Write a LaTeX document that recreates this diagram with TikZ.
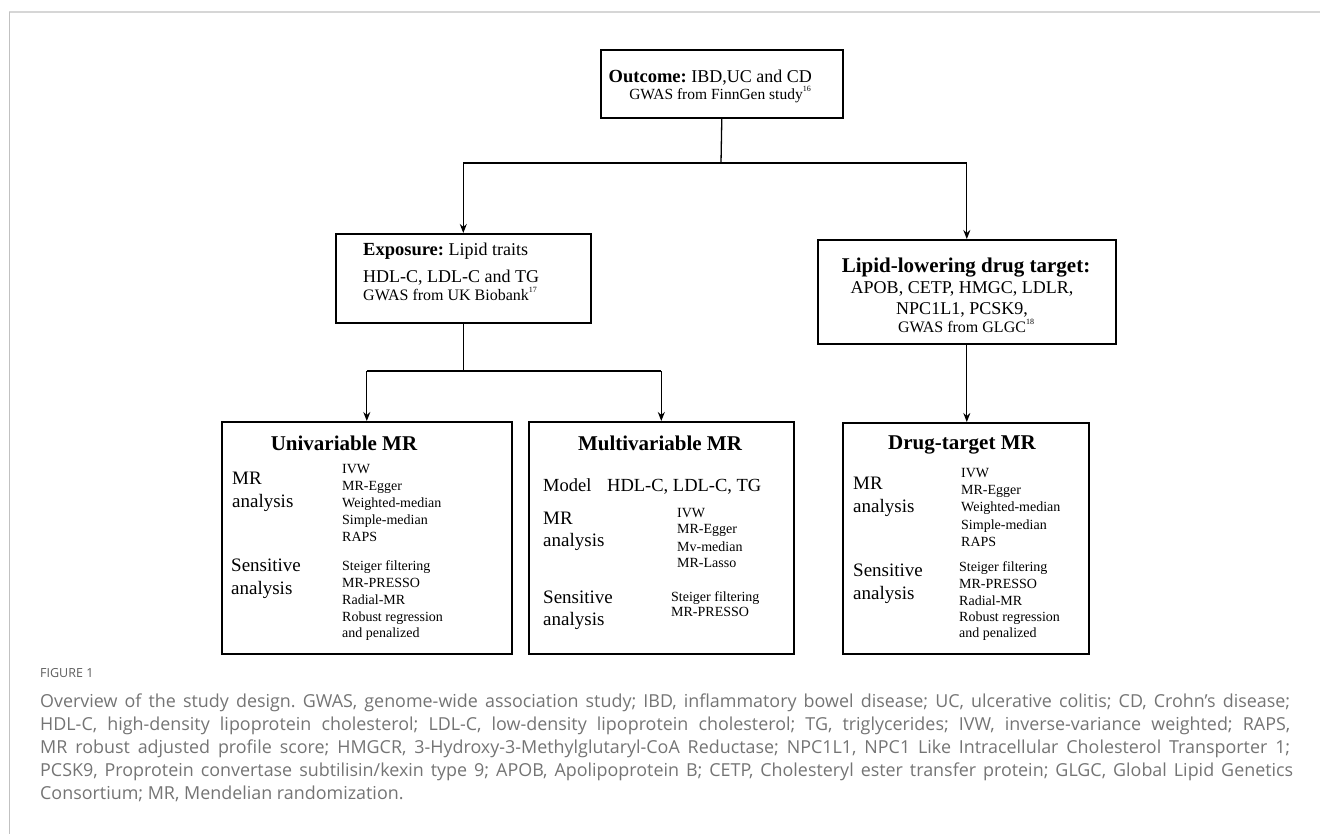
\documentclass[tikz,border=0pt]{standalone}
\usepackage{fontspec}
\setmainfont{Liberation Serif}
\newfontfamily\capfont{Open Sans}
\usetikzlibrary{arrows.meta}
\definecolor{capgray}{HTML}{747474}
\definecolor{framegray}{HTML}{D6D6D6}
\newcommand{\fsz}[1]{\fontsize{#1}{#1}\selectfont}
\frenchspacing
\begin{document}
\begin{tikzpicture}[x=1pt,y=-1pt,
  boxst/.style={draw=black, line width=1.6pt, inner sep=0pt},
  lnkst/.style={line width=1.3pt},
  arrst/.style={line width=1.3pt, -{Stealth[length=9pt,width=7pt]}},
  tw/.style={inner sep=0pt, anchor=base west},
  tcc/.style={inner sep=0pt, anchor=base},
  te/.style={inner sep=0pt, anchor=base east},
  headtxt/.style={tcc, font=\bfseries\fsz{21}},
  labtxt/.style={tw, font=\fsz{19}},
  itmtxt/.style={tw, font=\fsz{14}},
  captxt/.style={tw, font=\capfont\fsz{17.9}, text=capgray},
]
\useasboundingbox (0,0) rectangle (1320,834);
% frame lines
\draw[framegray, line width=2pt] (9,12) -- (1320,12);
\draw[framegray!90!black, line width=1pt] (9,12) -- (9,834);

% boxes
\node[boxst, anchor=north west, minimum width=242pt, minimum height=68pt] (out) at (600,49) {};
\node[boxst, anchor=north west, minimum width=255pt, minimum height=89pt] (exp) at (335,233) {};
\node[boxst, anchor=north west, minimum width=298pt, minimum height=104pt] (lip) at (817,239) {};
\node[boxst, anchor=north west, minimum width=290pt, minimum height=232pt] (uni) at (221,421) {};
\node[boxst, anchor=north west, minimum width=265pt, minimum height=232pt] (mul) at (528,421) {};
\node[boxst, anchor=north west, minimum width=246pt, minimum height=231pt] (drg) at (842,422) {};

% outcome text
\node[te] (o1) at (812,83) {{\bfseries\fsz{18.5}Outcome:}\fsz{18} IBD,UC and CD};
\node[te, font=\fsz{15.5}] (o2) at (811,100) {GWAS from FinnGen study\raisebox{8pt}{\fsz{8}16}};

% exposure text
\node[tw] (e1) at (363,256) {{\bfseries\fsz{18.5}Exposure:}\fsz{18} Lipid traits};
\node[tw, font=\fsz{18}] (e2) at (363,283) {HDL-C, LDL-C and TG};
\node[tw, font=\fsz{16}] (e3) at (363,301) {GWAS from UK Biobank\raisebox{8pt}{\fsz{8}17}};

% lipid text
\node[headtxt] (l1) at (966,273) {Lipid-lowering drug target:};
\node[tcc, font=\fsz{18}] (l2) at (962,294) {APOB, CETP, HMGC, LDLR,};
\node[tcc, font=\fsz{18}] (l3) at (962,315) {NPC1L1, PCSK9,};
\node[tcc, font=\fsz{16}] (l4) at (966,333) {GWAS from GLGC\raisebox{8pt}{\fsz{8}18}};

% univariable
\node[headtxt] (u0) at (344,450) {Univariable MR};
\node[labtxt] (ua) at (232,484) {MR};
\node[labtxt] (ub) at (232,507) {analysis};
\node[labtxt] (uc) at (231,571) {Sensitive};
\node[labtxt] (ud) at (231,594) {analysis};
\node[itmtxt] (u1) at (342,473) {IVW};
\node[itmtxt] (u2) at (342,490) {MR-Egger};
\node[itmtxt] (u3) at (342,507) {Weighted-median};
\node[itmtxt] (u4) at (342,524) {Simple-median};
\node[itmtxt] (u5) at (342,541) {RAPS};
\node[itmtxt] (u6) at (342,570) {Steiger filtering};
\node[itmtxt] (u7) at (342,587) {MR-PRESSO};
\node[itmtxt] (u8) at (342,604) {Radial-MR};
\node[itmtxt] (u9) at (342,621) {Robust regression};
\node[itmtxt] (u10) at (342,637) {and penalized};

% multivariable
\node[headtxt] (m0) at (660,450) {Multivariable MR};
\node[tw, font=\fsz{18.5}] (mm) at (543,491) {Model};
\node[tw, font=\fsz{18.5}] (mh) at (607,491) {HDL-C, LDL-C, TG};
\node[labtxt] (ma) at (543,524) {MR};
\node[labtxt] (mb) at (543,546) {analysis};
\node[labtxt] (mc) at (543,603) {Sensitive};
\node[labtxt] (md) at (543,625) {analysis};
\node[itmtxt] (m1) at (677,517) {IVW};
\node[itmtxt] (m2) at (677,533) {MR-Egger};
\node[itmtxt] (m3) at (677,551) {Mv-median};
\node[itmtxt] (m4) at (677,567) {MR-Lasso};
\node[itmtxt] (m5) at (671,601) {Steiger filtering};
\node[itmtxt] (m6) at (671,616) {MR-PRESSO};

% drug-target
\node[headtxt] (d0) at (962,449) {Drug-target MR};
\node[labtxt] (da) at (853,489) {MR};
\node[labtxt] (db) at (853,512) {analysis};
\node[labtxt] (dc) at (853,576) {Sensitive};
\node[labtxt] (dd) at (853,599) {analysis};
\node[itmtxt] (d1) at (961,477) {IVW};
\node[itmtxt] (d2) at (961,494) {MR-Egger};
\node[itmtxt] (d3) at (961,511) {Weighted-median};
\node[itmtxt] (d4) at (961,529) {Simple-median};
\node[itmtxt] (d5) at (961,546) {RAPS};
\node[itmtxt] (d6) at (959,571) {Steiger filtering};
\node[itmtxt] (d7) at (959,588) {MR-PRESSO};
\node[itmtxt] (d8) at (959,605) {Radial-MR};
\node[itmtxt] (d9) at (959,621) {Robust regression};
\node[itmtxt] (d10) at (959,637) {and penalized};

% connectors
\coordinate (j1) at (721,163);
\coordinate (j2) at (466,371);
\draw[lnkst] (out.south) -- (j1);
\draw[lnkst] (exp.north |- j1) -- (lip.north |- j1);
\draw[arrst] (exp.north |- j1) -- (exp.north);
\draw[arrst] (lip.north |- j1) -- (lip.north);
\draw[lnkst] (exp.south) -- (exp.south |- j2);
\draw[lnkst] (uni.north |- j2) -- (mul.north |- j2);
\draw[arrst] (uni.north |- j2) -- (uni.north);
\draw[arrst] (mul.north |- j2) -- (mul.north);
\draw[arrst] (lip.south) -- (drg.north -| lip.south);

% caption
\node[tw, font=\capfont\fsz{12.5}, text=capgray!80!black] (fig) at (40,677) {FIGURE 1};
\node[captxt] (c1) at (40,707) {\makebox[1250pt][s]{Overview of the study design. GWAS, genome-wide association study; IBD, inflammatory bowel disease; UC, ulcerative colitis; CD, Crohn’s disease;}};
\node[captxt] (c2) at (40,730) {\makebox[1250pt][s]{HDL-C, high-density lipoprotein cholesterol; LDL-C, low-density lipoprotein cholesterol; TG, triglycerides; IVW, inverse-variance weighted; RAPS,}};
\node[captxt] (c3) at (40,753) {\makebox[1250pt][s]{MR robust adjusted profile score; HMGCR, 3-Hydroxy-3-Methylglutaryl-CoA Reductase; NPC1L1, NPC1 Like Intracellular Cholesterol Transporter 1;}};
\node[captxt] (c4) at (40,776) {\makebox[1253pt][s]{PCSK9, Proprotein convertase subtilisin/kexin type 9; APOB, Apolipoprotein B; CETP, Cholesteryl ester transfer protein; GLGC, Global Lipid Genetics}};
\node[captxt] (c5) at (40,799) {Consortium; MR, Mendelian randomization.};
\end{tikzpicture}
\end{document}
